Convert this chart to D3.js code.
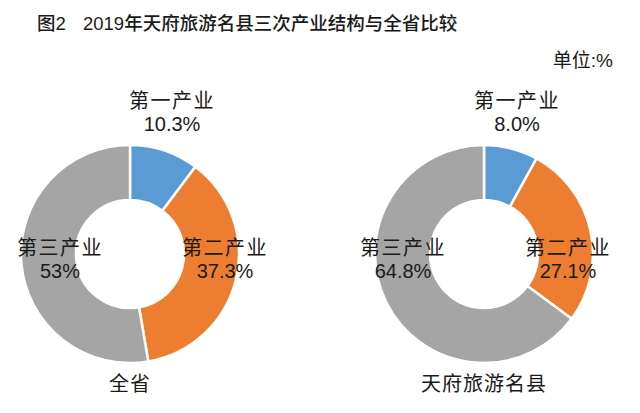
<!DOCTYPE html>
<html><head><meta charset="utf-8">
<script src="https://cdn.jsdelivr.net/npm/d3@7"></script>
<style>
html,body{margin:0;padding:0;background:#fff;}
text{font-family:"Liberation Sans","Noto Sans CJK SC",sans-serif;fill:#1a1a1a;}
</style></head><body>
<svg id="c" width="640" height="413"></svg>
<script>
const categories = ["第一产业", "第二产业", "第三产业"];
const provinceValues = [10.3, 37.3, 53];
const provinceLabels = ["10.3%", "37.3%", "53%"];
const countyValues = [8.0, 27.1, 64.8];
const countyLabels = ["8.0%", "27.1%", "64.8%"];
const chartNames = ["全省", "天府旅游名县"];
const colors = ["#5B9BD5", "#ED7D31", "#A5A5A5"];

const svg = d3.select("#c");
svg.append("text").attr("x", 37).attr("y", 30).attr("font-size", 18.5).attr("font-weight", 500).text("图2");
svg.append("text").attr("x", 83).attr("y", 30).attr("font-size", 18.5).attr("font-weight", 500).text("2019年天府旅游名县三次产业结构与全省比较");
svg.append("text").attr("x", 613).attr("y", 67).attr("font-size", 19).attr("text-anchor", "end").text("单位:%");

const pie = d3.pie().sort(null).value(d => d);
const outerR = 109, innerR = 54;
const arc = d3.arc().innerRadius(innerR).outerRadius(outerR);

const charts = [
  {cx: 130, cy: 254, values: provinceValues, labels: provinceLabels, name: chartNames[0],
   offs: [[42, -142], [95, 5], [-70, 5]]},
  {cx: 484, cy: 254, values: countyValues, labels: countyLabels, name: chartNames[1],
   offs: [[33, -142], [84, 5], [-81, 5]]}
];

charts.forEach(ch => {
  const g = svg.append("g").attr("transform", `translate(${ch.cx},${ch.cy})`);
  const arcs = pie(ch.values);
  g.selectAll("path").data(arcs).enter().append("path")
    .attr("d", arc).attr("fill", (d, i) => colors[i])
    .attr("stroke", "#fff").attr("stroke-width", 2.5).attr("stroke-linejoin", "round");
  arcs.forEach((d, i) => {
    const [ox, oy] = ch.offs[i];
    const t = g.append("text").attr("text-anchor", "middle").attr("font-size", 20);
    t.append("tspan").attr("x", ox).attr("y", oy - 4).attr("letter-spacing", 1.5).text(categories[i]);
    t.append("tspan").attr("x", ox).attr("y", oy + 19).text(ch.labels[i]);
  });
  g.append("text").attr("x", 0).attr("y", 137).attr("text-anchor", "middle").attr("font-size", 20).attr("letter-spacing", 1).text(ch.name);
});
</script>
</body></html>
